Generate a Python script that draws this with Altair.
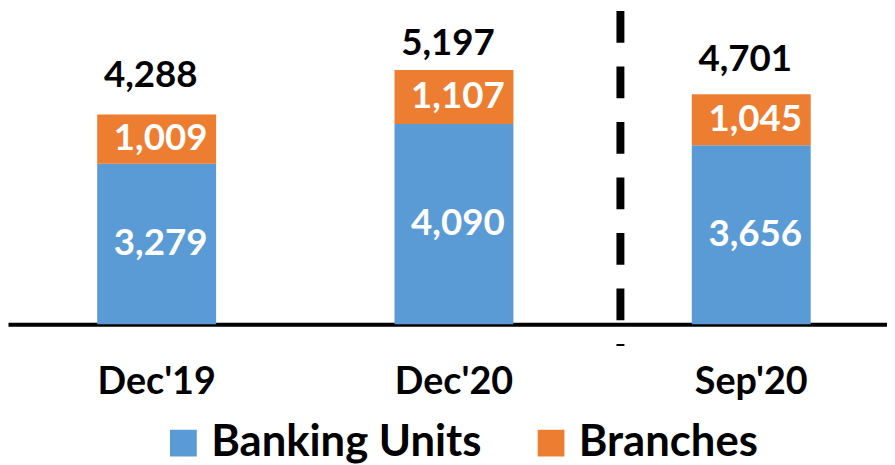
import altair as alt
import pandas as pd

periods = ["Dec'19", "Dec'20", "Sep'20"]
banking_units = [3279, 4090, 3656]
branches = [1009, 1107, 1045]
totals = [4288, 5197, 4701]
series = ["Banking Units", "Branches"]
colors = ["#5B9BD5", "#ED7D31"]

# vertical gap (px) of each total label above its bar, as placed in the reference
total_label_gap = {"Dec'19": 28, "Dec'20": 15, "Sep'20": 23}

rows = []
for p, b, r in zip(periods, banking_units, branches):
    rows.append({"period": p, "series": series[0], "value": b, "order": 0})
    rows.append({"period": p, "series": series[1], "value": r, "order": 1})
df = pd.DataFrame(rows)
tot = pd.DataFrame({"period": periods, "total": totals})

FONT = "Lato"
xscale = alt.Scale(domain=periods, paddingInner=0.6, paddingOuter=0.2783, align=0.539)
yscale = alt.Scale(domain=[0, 6400], nice=False)

xenc = alt.X(
    "period:N",
    sort=periods,
    scale=xscale,
    axis=alt.Axis(
        title=None,
        labelAngle=0,
        labelFont=FONT,
        labelFontWeight="bold",
        labelFontSize=38,
        labelColor="black",
        labelPadding=40,
        ticks=False,
        grid=False,
        domainColor="black",
        domainWidth=4,
    ),
)

bars = alt.Chart(df).mark_bar().encode(
    x=xenc,
    y=alt.Y("value:Q", stack="zero", scale=yscale, axis=None),
    order=alt.Order("order:Q", sort="ascending"),
    color=alt.Color(
        "series:N",
        scale=alt.Scale(domain=series, range=colors),
        legend=alt.Legend(
            title=None,
            orient="none",
            legendX=155,
            legendY=414,
            direction="horizontal",
            symbolType="square",
            symbolSize=729,
            symbolStrokeWidth=0,
            symbolOpacity=1,
            labelFont=FONT,
            labelFontWeight="bold",
            labelFontSize=44,
            labelColor="black",
            labelOffset=6,
            labelLimit=500,
            columnPadding=48,
            padding=0,
        ),
    ),
)

seg_labels = (
    alt.Chart(df)
    .transform_stack(
        stack="value",
        groupby=["period"],
        sort=[alt.SortField("order", "ascending")],
        as_=["y0", "y1"],
    )
    .transform_calculate(mid="(datum.y0 + datum.y1) / 2")
    .mark_text(
        color="white", font=FONT, fontWeight="bold", fontSize=37, dx=4, baseline="middle"
    )
    .encode(
        x=alt.X("period:N", sort=periods, scale=xscale),
        y=alt.Y("mid:Q", scale=yscale),
        text=alt.Text("value:Q", format=","),
    )
)

total_layers = []
for p in periods:
    total_layers.append(
        alt.Chart(tot)
        .transform_filter(alt.datum.period == p)
        .mark_text(
            color="black",
            font=FONT,
            fontWeight="bold",
            fontSize=37,
            dx=-6,
            dy=-total_label_gap[p],
            baseline="alphabetic",
        )
        .encode(
            x=alt.X("period:N", sort=periods, scale=xscale),
            y=alt.Y("total:Q", scale=yscale),
            text=alt.Text("total:Q", format=","),
        )
    )

divider = (
    alt.Chart(pd.DataFrame({"k": [0]}))
    .mark_rule(color="black", strokeWidth=8, strokeDash=[32, 24])
    .encode(x=alt.value(618), y=alt.value(0), y2=alt.value(338))
)

chart = (
    alt.layer(bars, seg_labels, *total_layers, divider)
    .properties(
        width=887,
        height=316,
        padding={"left": 0, "top": 1, "right": 0, "bottom": 140},
        autosize=alt.AutoSizeParams(type="none"),
    )
    .configure_view(stroke=None)
)

chart.save("out.html", embed_options={"renderer": "svg", "actions": False})
